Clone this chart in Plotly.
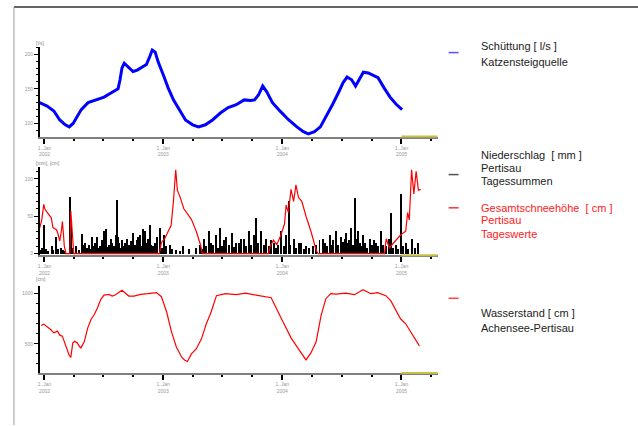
import plotly.graph_objects as go

# --- Daten ---
# Schüttung Katzensteigquelle [l/s]
Q_DATUM = ["2001-12-17", "2002-01-09", "2002-01-30", "2002-02-17", "2002-03-06", "2002-03-18",
           "2002-03-30", "2002-04-12", "2002-04-24", "2002-05-15", "2002-06-09", "2002-07-03",
           "2002-07-24", "2002-08-15", "2002-08-21", "2002-08-27", "2002-09-03", "2002-09-15",
           "2002-09-30", "2002-10-13", "2002-10-25", "2002-11-10", "2002-11-19", "2002-11-28",
           "2002-12-07", "2002-12-16", "2003-01-01", "2003-01-16", "2003-02-01", "2003-02-19",
           "2003-03-10", "2003-04-01", "2003-04-19", "2003-05-10", "2003-06-01", "2003-06-25",
           "2003-07-19", "2003-08-13", "2003-09-06", "2003-09-26", "2003-10-08", "2003-10-20",
           "2003-11-02", "2003-11-14", "2003-12-02", "2003-12-27", "2004-01-21", "2004-02-15",
           "2004-03-06", "2004-03-21", "2004-04-09", "2004-04-27", "2004-05-15", "2004-06-03",
           "2004-06-21", "2004-07-06", "2004-07-18", "2004-08-01", "2004-08-13", "2004-08-25",
           "2004-09-06", "2004-09-21", "2004-10-06", "2004-10-21", "2004-11-09", "2004-11-27",
           "2004-12-15", "2005-01-03"]
Q_LS = [130, 125, 118, 105, 98, 95, 100, 110, 120, 130, 134, 138,
        144, 150, 163, 180, 187, 182, 175, 177, 180, 185, 195, 206,
        203, 189, 170, 151, 134, 120, 105, 98, 95, 98, 105, 115,
        123, 127, 134, 133, 134, 141, 154, 146, 130, 117, 105, 95,
        88, 85, 88, 95, 110, 127, 144, 159, 167, 163, 154, 163,
        174, 173, 170, 166, 151, 138, 128, 120]

# Niederschlag Pertisau, Tagessummen [mm]
N_DATUM = [
    "2001-12-20", "2001-12-24", "2001-12-31",
    "2002-01-05", "2002-01-12", "2002-01-24", "2002-01-28",
    "2002-02-05", "2002-02-10", "2002-02-20", "2002-02-26",
    "2002-03-05", "2002-03-20", "2002-03-22", "2002-03-28",
    "2002-04-08", "2002-04-18", "2002-04-26", "2002-04-30",
    "2002-05-05", "2002-05-10", "2002-05-16", "2002-05-21", "2002-05-26", "2002-05-30",
    "2002-06-04", "2002-06-11", "2002-06-16", "2002-06-20", "2002-06-25",
    "2002-07-01", "2002-07-05", "2002-07-08", "2002-07-12", "2002-07-18", "2002-07-24", "2002-07-28",
    "2002-08-02", "2002-08-07", "2002-08-11", "2002-08-13", "2002-08-18", "2002-08-22", "2002-08-26",
    "2002-08-30",
    "2002-09-04", "2002-09-10", "2002-09-14", "2002-09-18", "2002-09-24", "2002-09-30",
    "2002-10-05", "2002-10-11", "2002-10-16", "2002-10-20", "2002-10-26", "2002-10-30",
    "2002-11-05", "2002-11-10", "2002-11-15", "2002-11-20", "2002-11-25",
    "2002-12-01", "2002-12-05", "2002-12-12", "2002-12-20", "2002-12-28",
    "2003-01-03", "2003-01-10", "2003-01-20", "2003-01-28",
    "2003-02-08", "2003-02-20", "2003-03-01", "2003-03-20",
    "2003-04-10", "2003-04-22", "2003-04-28",
    "2003-05-05", "2003-05-12", "2003-05-20", "2003-05-26",
    "2003-06-03", "2003-06-10", "2003-06-17", "2003-06-25", "2003-06-29",
    "2003-07-05", "2003-07-13", "2003-07-20", "2003-07-29",
    "2003-08-05", "2003-08-12", "2003-08-20", "2003-08-27",
    "2003-09-05", "2003-09-12", "2003-09-20", "2003-09-26",
    "2003-10-05", "2003-10-13", "2003-10-18", "2003-10-28",
    "2003-11-05", "2003-11-13", "2003-11-22", "2003-11-28",
    "2003-12-05", "2003-12-12", "2003-12-20", "2003-12-28",
    "2004-01-06", "2004-01-13", "2004-01-20", "2004-01-26",
    "2004-02-05", "2004-02-12", "2004-02-20", "2004-02-28",
    "2004-03-07", "2004-03-14", "2004-03-24",
    "2004-04-05", "2004-04-14", "2004-04-24",
    "2004-05-05", "2004-05-12", "2004-05-18", "2004-05-25", "2004-05-30",
    "2004-06-05", "2004-06-14", "2004-06-20", "2004-06-29",
    "2004-07-04", "2004-07-10", "2004-07-14", "2004-07-20", "2004-07-25", "2004-07-30",
    "2004-08-04", "2004-08-10", "2004-08-15", "2004-08-20", "2004-08-26",
    "2004-09-01", "2004-09-05", "2004-09-12", "2004-09-18", "2004-09-25",
    "2004-10-02", "2004-10-08", "2004-10-14", "2004-10-22", "2004-10-29",
    "2004-11-05", "2004-11-14", "2004-11-22", "2004-11-29",
    "2004-12-06", "2004-12-14", "2004-12-22", "2004-12-29",
    "2005-01-06", "2005-01-14", "2005-01-22",
    "2005-02-01", "2005-02-10", "2005-02-20",
]
N_MM = [
    5, 8, 38,
    6, 4, 10, 5,
    23, 6, 8, 5,
    4, 76, 42, 8,
    10, 5, 26, 12,
    15, 8, 12, 6, 23, 10,
    14, 23, 8, 10, 18,
    31, 12, 33, 9, 12, 20, 15,
    10, 25, 72, 23, 14, 8, 19,
    11,
    15, 20, 9, 12, 17, 28,
    12, 18, 22, 25, 10, 33,
    30, 15, 20, 38, 12,
    10, 15, 22, 35, 8,
    25, 10, 12, 6,
    5, 4, 10, 6,
    8, 12, 6,
    20, 10, 30, 14,
    12, 25, 8, 35, 10,
    18, 22, 12, 28,
    9, 14, 15, 20,
    20, 10, 30, 12,
    25, 48, 15, 30,
    12, 20, 10, 18,
    15, 8, 12, 30,
    10, 25, 70, 12,
    20, 8, 14, 15,
    6, 10, 8,
    10, 12, 18,
    20, 14, 10, 25, 12,
    18, 30, 12, 22,
    16, 20, 28, 14, 18, 35,
    12, 75, 20, 30, 14,
    10, 25, 15, 8, 20,
    12, 18, 15, 10, 30,
    12, 10, 20, 55,
    8, 12, 6, 80,
    10, 15, 6,
    20, 8, 15,
]

# Gesamtschneehöhe Pertisau, Tageswerte [cm]
S_DATUM = ["2001-12-18", "2001-12-24", "2001-12-30", "2002-01-03", "2002-01-10", "2002-01-16",
           "2002-01-22", "2002-01-27", "2002-02-07", "2002-02-12", "2002-02-17", "2002-02-22",
           "2002-02-25", "2002-02-28", "2002-03-03", "2002-03-08", "2002-03-20", "2002-03-23",
           "2002-03-27", "2002-04-01",
           "2002-12-20", "2002-12-26", "2003-01-05", "2003-01-15", "2003-01-25", "2003-02-01",
           "2003-02-08", "2003-02-13", "2003-02-22", "2003-03-05", "2003-03-13", "2003-03-28",
           "2003-04-12", "2003-04-25", "2003-05-01",
           "2003-11-20", "2003-11-25", "2003-12-05", "2003-12-15", "2003-12-28", "2004-01-08",
           "2004-01-13", "2004-01-20", "2004-01-28", "2004-02-05", "2004-02-12", "2004-02-20",
           "2004-03-01", "2004-03-14", "2004-03-29", "2004-04-14", "2004-04-20",
           "2004-11-10", "2004-11-15", "2004-11-25", "2004-12-10", "2004-12-29", "2005-01-14",
           "2005-01-20", "2005-01-25", "2005-02-01", "2005-02-08", "2005-02-15", "2005-02-22",
           "2005-03-01"]
S_CM = [35, 46, 66, 59, 55, 52, 48, 35, 32, 26, 17, 30,
        43, 28, 10, 0, 0, 57, 35, 0,
        0, 15, 20, 30, 38, 70,
        112, 85, 75, 60, 55, 46,
        30, 12, 0,
        0, 10, 18, 12, 25, 40,
        65, 55, 86, 70, 92, 75,
        70, 50, 30, 5, 0,
        0, 20, 8, 15, 25, 30,
        55, 45, 112, 80, 110, 85,
        86]

# Wasserstand Achensee-Pertisau [cm]
W_DATUM = ["2001-12-22", "2001-12-30", "2002-01-20", "2002-01-30", "2002-02-10", "2002-02-17",
           "2002-02-25", "2002-03-07", "2002-03-18", "2002-03-23", "2002-03-29", "2002-04-04",
           "2002-04-12", "2002-04-18", "2002-04-23", "2002-05-03", "2002-05-14", "2002-05-24",
           "2002-06-03", "2002-06-13", "2002-06-23", "2002-07-03", "2002-07-18", "2002-07-28",
           "2002-08-06", "2002-08-27", "2002-09-17", "2002-10-03", "2002-10-23", "2002-11-15",
           "2002-12-11", "2002-12-26", "2003-01-11", "2003-01-26", "2003-02-10", "2003-02-26",
           "2003-03-07", "2003-03-16", "2003-03-28", "2003-04-12", "2003-04-28", "2003-05-13",
           "2003-05-28", "2003-06-13", "2003-07-10", "2003-08-13", "2003-09-10", "2003-10-13",
           "2003-11-13", "2003-11-28",
           "2003-12-28", "2004-01-28", "2004-02-28", "2004-03-14", "2004-03-29", "2004-04-14",
           "2004-04-29", "2004-05-14", "2004-05-29", "2004-06-15", "2004-07-14", "2004-08-10",
           "2004-09-05", "2004-09-29", "2004-10-20",
           "2004-11-14", "2004-11-29", "2004-12-29", "2005-01-14", "2005-01-29", "2005-02-13",
           "2005-02-25"]
W_CM = [683, 697, 643, 610, 627, 587, 577, 493, 386, 366, 510, 526,
        510, 476, 460, 520, 660, 743, 793, 860, 943, 986, 993, 976,
        986, 1033, 976, 976, 993, 1000, 1010, 970, 820, 620, 470, 370,
        340, 325, 400, 450, 550, 700, 820, 980, 1000, 990, 1005, 985,
        970, 960,
        760, 560, 410, 340, 410, 520, 780, 950, 1000, 995, 1005, 990,
        1040, 1000, 1010,
        980, 930, 750, 700, 620, 550, 480]

JAHRE = ["2002-01-01", "2003-01-01", "2004-01-01", "2005-01-01"]
JAHR_TEXT = ["1..Jan<br>2002", "1..Jan<br>2003", "1..Jan<br>2004", "1..Jan<br>2005"]
X_BEREICH = ["2001-12-18", "2005-04-22"]

B, H = 638, 426
SCHRIFT = "Liberation Sans, Arial, sans-serif"


def px_x(p):
    return p / B


def px_y(p):
    return 1 - p / H


fig = go.Figure()

# Schüttung
fig.add_trace(go.Scatter(x=Q_DATUM, y=Q_LS, mode="lines", line=dict(color="#0000ff", width=3),
                         xaxis="x", yaxis="y", showlegend=False))
# Niederschlag + Schnee
fig.add_trace(go.Bar(x=N_DATUM, y=N_MM, width=3 * 86400000, marker=dict(color="black", line_width=0),
                     xaxis="x2", yaxis="y2", showlegend=False))
fig.add_trace(go.Scatter(x=S_DATUM, y=S_CM, mode="lines", line=dict(color="#ff0000", width=1.2),
                         xaxis="x2", yaxis="y2", showlegend=False))
# Wasserstand
fig.add_trace(go.Scatter(x=W_DATUM, y=W_CM, mode="lines", line=dict(color="#ff0000", width=1.2),
                         xaxis="x3", yaxis="y3", showlegend=False))

tickfont = dict(family=SCHRIFT, size=5, color="#999999")


def xachse(anker):
    return dict(type="date", range=X_BEREICH, domain=[px_x(38), px_x(437)], anchor=anker,
                showline=True, linecolor="#808080", linewidth=2, showgrid=False, zeroline=False,
                tickmode="array", tickvals=JAHRE, ticktext=JAHR_TEXT, ticks="outside",
                ticklen=5, tickwidth=1.5, tickcolor="black", tickfont=tickfont,
                minor=dict(ticks="outside", ticklen=2, tickcolor="black", dtick="M3",
                           tick0="2002-01-01", showgrid=False))


def yachse(anker, bereich, domain, werte, minor_dtick):
    return dict(range=bereich, domain=domain, anchor=anker, showline=True, linecolor="black",
                linewidth=1.5, showgrid=False, zeroline=False, tickmode="array", tickvals=werte,
                ticks="outside", ticklen=4, tickwidth=1, tickcolor="black", tickfont=tickfont,
                minor=dict(ticks="outside", ticklen=2, tickcolor="black", dtick=minor_dtick,
                           tick0=0, showgrid=False))


fig.update_layout(
    width=B, height=H, margin=dict(l=0, r=0, t=0, b=0),
    paper_bgcolor="white", plot_bgcolor="white", bargap=0,
    font=dict(family=SCHRIFT, color="#222222"),
    xaxis=xachse("y"),
    xaxis2=xachse("y2"),
    xaxis3=xachse("y3"),
    yaxis=yachse("x", [81, 210], [px_y(136.9), px_y(47.4)], [100, 150, 200], 10),
    yaxis2=yachse("x2", [-2, 116], [px_y(255.8), px_y(167.3)], [0, 50, 100], 10),
    yaxis3=yachse("x3", [209, 1080], [px_y(374), px_y(286.3)], [500, 1000], 100),
)

# gelbes Endstück der x-Achsen
for xref, yref in [("x", "y domain"), ("x2", "y2 domain"), ("x3", "y3 domain")]:
    fig.add_shape(type="line", xref=xref, yref=yref, x0="2005-01-01", x1=X_BEREICH[1], y0=0, y1=0,
                  line=dict(color="#c8c040", width=2))

# Rahmen
fig.add_shape(type="line", xref="paper", yref="paper", x0=px_x(12), x1=1, y0=px_y(7), y1=px_y(7),
              line=dict(color="#333333", width=1.5))
fig.add_shape(type="line", xref="paper", yref="paper", x0=px_x(12), x1=px_x(12), y0=px_y(7), y1=0,
              line=dict(color="#999999", width=1))

# Einheiten
for text, y in [("[l/s]", 43), ("[mm], [cm]", 163), ("[cm]", 280)]:
    fig.add_annotation(text=text, xref="paper", yref="paper", x=px_x(32), y=px_y(y),
                       xanchor="left", yanchor="middle", showarrow=False,
                       font=dict(family=SCHRIFT, size=5, color="#888888"))

# Legende rechts
legende = [
    (52.7, "#5555ff", [("Schüttung [ l/s ]", 46.5), ("Katzensteigquelle", 61.7)], "#222222"),
    (175, "#555555", [("Niederschlag  [ mm ]", 155), ("Pertisau", 168.3), ("Tagessummen", 181.7)], "#222222"),
    (208.3, "#ff3030", [("Gesamtschneehöhe  [ cm ]", 208.3), ("Pertisau", 221), ("Tageswerte", 234.3)], "#ff2020"),
    (299, "#ff4040", [("Wasserstand [ cm ]", 313.3), ("Achensee-Pertisau", 328.3)], "#222222"),
]
for ly, lcol, zeilen, tcol in legende:
    fig.add_shape(type="line", xref="paper", yref="paper", x0=px_x(448), x1=px_x(458),
                  y0=px_y(ly), y1=px_y(ly), line=dict(color=lcol, width=1.5))
    for text, ty in zeilen:
        fig.add_annotation(text=text, xref="paper", yref="paper", x=px_x(478), y=px_y(ty),
                           xanchor="left", yanchor="middle", showarrow=False,
                           font=dict(family=SCHRIFT, size=11, color=tcol))

# Seitenrand des Browsers entfernen, damit die Pixelpositionen stimmen
fig.write_html("out.html", config={"displayModeBar": False},
               post_script="document.body.style.margin='0';")
